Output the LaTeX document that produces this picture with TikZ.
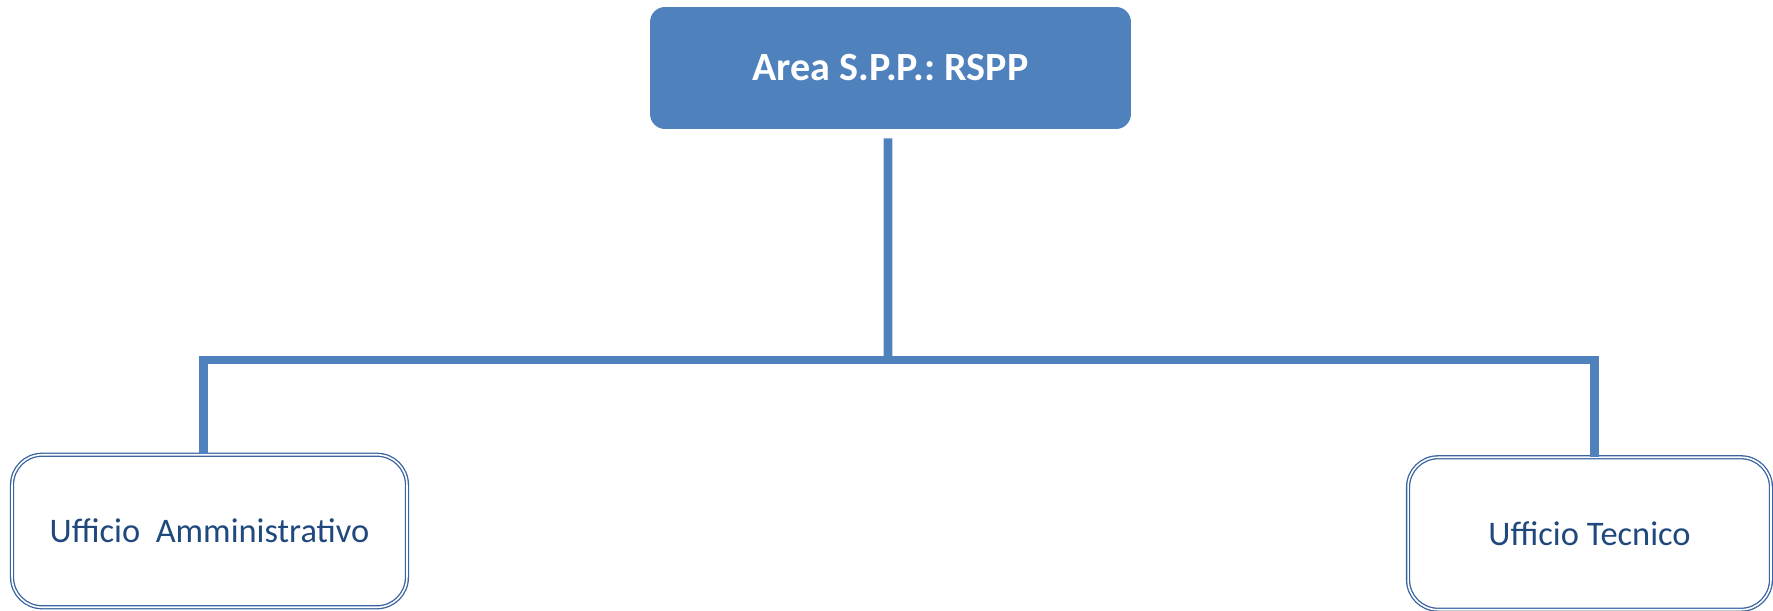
\documentclass[tikz,border=0pt]{standalone}
\usepackage{fontspec}
\setmainfont{Carlito}
\frenchspacing
\usetikzlibrary{positioning}
\definecolor{officeblue}{HTML}{4F81BD}
\definecolor{darkblue}{HTML}{1F497D}
\definecolor{edgeblue}{HTML}{3A64A0}
\tikzstyle{head}=[draw=none,fill=officeblue,rounded corners=0.3cm,
  text=white,font=\fontsize{22.8}{26}\selectfont\bfseries,
  minimum width=9.62cm,minimum height=2.44cm]
\tikzstyle{office}=[draw=edgeblue,double=white,double distance=0.9pt,
  line width=0.75pt,fill=white,rounded corners=0.6cm,text=darkblue,
  font=\fontsize{19.6}{23}\selectfont,minimum height=3.05cm]
\tikzstyle{link}=[officeblue,line width=5.1pt]

\begin{document}
\begin{tikzpicture}[x=0.02cm, y=-0.02cm]
  \useasboundingbox (0,0) rectangle (1773,611);

  \node[head] (rspp) at (890.5,68) {Area S.P.P.: RSPP};
  \node[office, minimum width=7.9cm] (amm) at (209.5,531) {Ufficio\ \ Amministrativo};
  \node[office, minimum width=7.26cm] (tec) at (1589.5,533.5) {Ufficio Tecnico};

  \coordinate[below=0.18cm of rspp.south, xshift=-0.05cm] (stem);
  \coordinate (bus) at (888,360);

  \draw[link] (stem) -- (bus);
%  \draw[link] (amm.north) |- (bus) -| (tec.north);
  \draw[link] ([xshift=-0.12cm]amm.north) |- (bus) -| ([xshift=0.09cm]tec.north);
\end{tikzpicture}
\end{document}
